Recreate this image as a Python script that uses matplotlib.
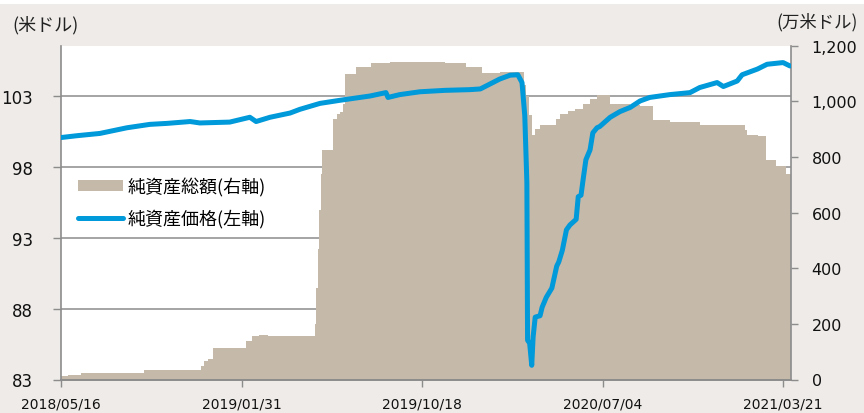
import matplotlib
matplotlib.use("Agg")
import matplotlib.pyplot as plt
import matplotlib.transforms as mtransforms
from matplotlib.patches import Rectangle
from matplotlib.lines import Line2D
import pandas as pd

# ---- data ----
nav_dates = ["2018-05-16", "2018-05-26", "2018-06-14", "2018-09-13", "2018-12-04", "2018-12-08",
             "2018-12-14", "2018-12-21", "2019-02-06", "2019-02-15", "2019-02-25", "2019-03-10",
             "2019-05-17", "2019-05-19", "2019-05-21", "2019-05-23", "2019-05-25", "2019-05-27",
             "2019-06-12",
             "2019-06-18", "2019-06-22", "2019-06-26", "2019-06-29", "2019-07-15", "2019-08-06",
             "2019-09-02", "2019-10-15", "2019-11-20", "2019-12-20", "2020-01-12", "2020-02-07",
             "2020-03-07", "2020-03-13", "2020-03-16", "2020-03-20", "2020-03-24", "2020-03-29",
             "2020-04-05", "2020-04-22", "2020-04-28", "2020-05-04", "2020-05-15", "2020-05-25",
             "2020-06-06", "2020-06-16", "2020-06-26", "2020-07-15", "2020-08-13", "2020-08-27",
             "2020-09-15", "2020-10-09", "2020-11-21", "2021-01-25", "2021-01-28", "2021-02-13",
             "2021-02-25", "2021-03-11", "2021-03-25", "2021-04-01"]
nav_values = [11, 16, 25, 35, 50, 65,
              74, 114, 137, 156, 161, 158,
              200, 330, 470, 610, 740, 824,
              938,
              955, 963, 992, 1100, 1124, 1139,
              1143, 1140, 1138, 1125, 1103, 1105,
              1107, 1060, 1020, 950, 878, 902,
              914, 916, 935, 956, 965, 974,
              990, 1010, 1022, 991, 988, 985,
              932, 925, 915, 896, 878, 875,
              788, 766, 740, 740]

price_dates = ["2018-05-16", "2018-06-08", "2018-07-11", "2018-08-19", "2018-09-21", "2018-10-16",
               "2018-11-18", "2018-12-02", "2019-01-14", "2019-02-12", "2019-02-21", "2019-03-13",
               "2019-04-11", "2019-04-25", "2019-05-24", "2019-06-22", "2019-08-04", "2019-08-27",
               "2019-08-30", "2019-09-16", "2019-10-15", "2019-11-20", "2019-12-26", "2020-01-10",
               "2020-02-07", "2020-02-22", "2020-03-04", "2020-03-10", "2020-03-14", "2020-03-17",
               "2020-03-18", "2020-03-21", "2020-03-24", "2020-03-26", "2020-03-29", "2020-04-05",
               "2020-04-08", "2020-04-14", "2020-04-22", "2020-04-29", "2020-05-02", "2020-05-07",
               "2020-05-13", "2020-05-18", "2020-05-27", "2020-05-30", "2020-06-03", "2020-06-06",
               "2020-06-10", "2020-06-16", "2020-06-20", "2020-06-26", "2020-06-30", "2020-07-15",
               "2020-07-29", "2020-08-13", "2020-08-27", "2020-09-10", "2020-10-09", "2020-11-07",
               "2020-11-21", "2020-12-16", "2020-12-25", "2021-01-14", "2021-01-21", "2021-02-12",
               "2021-02-26", "2021-03-21", "2021-03-31"]
price_values = [100.07, 100.2, 100.36, 100.76, 101.0, 101.07,
                101.2, 101.1, 101.16, 101.5, 101.2, 101.5,
                101.8, 102.06, 102.48, 102.7, 103.0, 103.24,
                102.9, 103.1, 103.3, 103.4, 103.45, 103.5,
                104.2, 104.47, 104.5, 103.95, 101.6, 96.9,
                85.77, 85.56, 84.0, 86.0, 87.4, 87.5,
                88.1, 88.8, 89.45, 91.0, 91.3, 92.1,
                93.56, 93.9, 94.3, 95.9, 96.0, 97.1,
                98.5, 99.2, 100.4, 100.76, 100.85, 101.5,
                101.9, 102.2, 102.65, 102.9, 103.1, 103.24,
                103.6, 103.95, 103.67, 104.06, 104.5, 104.9,
                105.24, 105.36, 105.12]

x_tick_labels = ["2018/05/16", "2019/01/31", "2019/10/18", "2020/07/04", "2021/03/21"]
left_ticks = [83, 88, 93, 98, 103]
right_ticks = [0, 200, 400, 600, 800, 1000, 1200]

nav_label = "純資産総額(右軸)"
price_label = "純資産価格(左軸)"
left_unit = "(米ドル)"
right_unit = "(万米ドル)"

# ---- style ----
BG = "#EEEBE8"
AREA = "#C5B9AA"
LINE = "#0099D9"
AXC = "#8C8C8C"
JP = ["Noto Sans CJK JP", "DejaVu Sans"]
NUM = ["DejaVu Sans"]

fig = plt.figure(figsize=(8.64, 4.14), dpi=100, facecolor=BG)
fig.patches.append(Rectangle((0, 1 - 5 / 414), 1, 5 / 414, transform=fig.transFigure,
                             facecolor="white", edgecolor="none", zorder=0))

L, R, B, T = 61 / 864, 790.7 / 864, (414 - 380.5) / 414, (414 - 46.7) / 414
ax2 = fig.add_axes([L, B, R - L, T - B])  # right axis (area)
ax = fig.add_axes([L, B, R - L, T - B], sharex=ax2)  # left axis (line)
ax.set_zorder(3)
ax2.set_zorder(2)
ax.patch.set_visible(False)
ax2.set_facecolor("white")

nd = pd.to_datetime(nav_dates)
pdts = pd.to_datetime(price_dates)

# area on right axis
ax2.fill_between(nd, 0, nav_values, step="post", color=AREA, linewidth=0, zorder=2)
ax2.set_ylim(0, 1200)
ax2.yaxis.tick_right()
ax2.set_yticks(right_ticks)
ax2.set_yticklabels([f"{v:,}" for v in right_ticks], fontsize=11.5, family=NUM)
ax2.tick_params(axis="y", length=5, width=1.0, color=AXC, pad=10, labelcolor="#111111")

# left axis
ax.set_ylim(83, 106.55)
ax.set_yticks(left_ticks)
ax.set_yticklabels([str(v) for v in left_ticks], fontsize=12, family=NUM)
ax.tick_params(axis="y", length=6, width=1.0, color=AXC, pad=14, labelcolor="#111111")

# gridlines drawn under the area (in ax2), positioned on left scale
blend = mtransforms.blended_transform_factory(ax2.transAxes, ax.transData)
for v in left_ticks[1:]:
    ax2.plot([0, 1], [v, v], transform=blend, color=AXC, linewidth=1.1, zorder=1)

# price line
ax.plot(pdts, price_values, color=LINE, linewidth=3.6, solid_joinstyle="round",
        solid_capstyle="round", zorder=3)

# x axis
start = pd.Timestamp("2018-05-16")
ax.set_xlim(start, pd.Timestamp("2021-04-01"))
xt = pd.to_datetime([s.replace("/", "-") for s in x_tick_labels])
ax.set_xticks(xt)
ax.set_xticklabels(x_tick_labels, fontsize=10, family=NUM)
ax.tick_params(axis="x", length=5, width=1.0, color=AXC, pad=7, labelcolor="#111111")
ax2.tick_params(axis="x", bottom=False, labelbottom=False)

for a in (ax, ax2):
    for s in a.spines.values():
        s.set_visible(False)
ax.spines["left"].set_visible(True)
ax.spines["left"].set_color(AXC)
ax.spines["left"].set_linewidth(1.2)
ax.spines["bottom"].set_visible(True)
ax.spines["bottom"].set_color(AXC)
ax.spines["bottom"].set_linewidth(1.4)
ax2.spines["right"].set_visible(True)
ax2.spines["right"].set_color(AXC)
ax2.spines["right"].set_linewidth(1.2)

# units
fig.text(12 / 864, 1 - 25 / 414, left_unit, fontsize=13, family=JP, ha="left", va="center",
         color="#222222")
fig.text(858 / 864, 1 - 22 / 414, right_unit, fontsize=12.5, family=JP, ha="right", va="center",
         color="#222222")

# legend
handles = [Rectangle((0, 0), 1, 1, facecolor=AREA, edgecolor="none"),
           Line2D([], [], color=LINE, linewidth=3.6, solid_capstyle="round")]
leg = ax.legend(handles, [nav_label, price_label], loc="upper left",
                bbox_to_anchor=((78 - 61) / 729.7, (380.5 - 178) / 333.8),
                frameon=False, prop={"family": JP, "size": 13},
                handlelength=2.5, handleheight=0.55, handletextpad=0.25, labelspacing=0.7,
                borderaxespad=0, borderpad=0)

fig.savefig("out.png", dpi=100, facecolor=BG)
